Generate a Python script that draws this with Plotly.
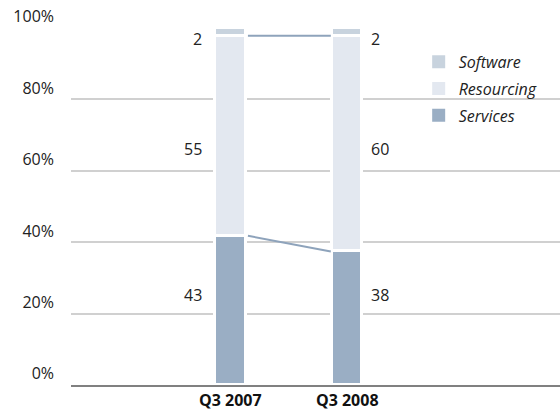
import plotly.graph_objects as go

periods = ["Q3 2007", "Q3 2008"]
series_names = ["Services", "Resourcing", "Software"]
services = [41.8, 37.4]
resourcing = [56.0, 60.4]
software = [2.2, 2.2]
label_services = ["43", "38"]
label_resourcing = ["55", "60"]
label_software = ["2", "2"]
y_ticks = [0, 20, 40, 60, 80, 100]
y_ticktext = ["0%", "20%", "40%", "60%", "80%", "100%"]

colors = {"Services": "#9aaec4", "Resourcing": "#e3e8f0", "Software": "#c8d3de"}
values = {"Services": services, "Resourcing": resourcing, "Software": software}
labels = {"Services": label_services, "Resourcing": label_resourcing, "Software": label_software}
label_shift = {"Services": 19, "Resourcing": -9, "Software": -7}
legend_rank = {"Software": 1, "Resourcing": 2, "Services": 3}

xpos = list(range(len(periods)))
bw = 0.261
FONT = "Open Sans"

fig = go.Figure()
for name in series_names:
    fig.add_trace(go.Bar(
        x=xpos, y=values[name], name=name, width=bw,
        marker=dict(color=colors[name], line=dict(color="white", width=3)),
        showlegend=False,
    ))

# legend entries (plain squares)
for name in series_names:
    fig.add_trace(go.Scatter(
        x=[None], y=[None], mode="markers", name=name,
        marker=dict(symbol="square", size=13, color=colors[name]),
        legendgroup=name, legendrank=legend_rank[name], hoverinfo="skip",
    ))

# connector lines between bars
base = [0.0 for _ in periods]
for name in ["Services", "Resourcing"]:
    tops = [b + v for b, v in zip(base, values[name])]
    fig.add_trace(go.Scatter(
        x=[xpos[0] + bw / 2 + 0.02, xpos[1] - bw / 2 - 0.01], y=tops,
        mode="lines", line=dict(color="#8ea3bb", width=2),
        showlegend=False, hoverinfo="skip",
    ))
    base = tops

# data labels
base = [0.0 for _ in periods]
annotations = []
for name in series_names:
    segs = values[name]
    mids = [b + v / 2 for b, v in zip(base, segs)]
    ylab = sum(mids) / len(mids)
    for i, x in enumerate(xpos):
        left = (i == 0)
        annotations.append(dict(
            x=x - bw / 2 if left else x + bw / 2, y=ylab, xref="x", yref="y",
            text=labels[name][i], showarrow=False,
            xanchor="right" if left else "left", yanchor="middle",
            xshift=-11 if left else 7, yshift=label_shift[name],
            font=dict(family=FONT, size=16, color="#222222"),
        ))
    base = [b + v for b, v in zip(base, segs)]

fig.update_layout(
    width=560, height=410,
    margin=dict(l=71, r=0, t=28, b=25),
    paper_bgcolor="white", plot_bgcolor="white",
    barmode="stack", bargap=0,
    font=dict(family=FONT, size=16, color="#222222"),
    showlegend=True,
    legend=dict(
        x=0.711, y=0.953, xanchor="left", yanchor="top",
        traceorder="grouped", tracegroupgap=3,
        bgcolor="rgba(0,0,0,0)",
        font=dict(family=FONT, size=16, color="#222222", style="italic"),
    ),
    annotations=annotations,
)
fig.update_xaxes(
    range=[-1.363, 2.820], tickvals=xpos, ticktext=periods,
    showgrid=False, zeroline=False, showline=True,
    linecolor="#808080", linewidth=2, ticks="", ticklen=0,
    automargin=False,
    tickfont=dict(family=FONT, size=16, weight="bold", color="#111111"),
)
fig.update_yaxes(
    range=[0, 100], tickvals=y_ticks, ticktext=y_ticktext,
    showgrid=True, gridcolor="#d0d0d0", gridwidth=1.5,
    zeroline=False, showline=False, ticks="", ticklen=0,
    automargin=False,
    ticklabelposition="outside top", ticklabelstandoff=16,
    tickfont=dict(family=FONT, size=16, color="#222222"),
)

fig.write_html(
    "out.html",
    config={"displayModeBar": False},
    post_script="document.body.style.margin='0';document.body.style.padding='0';",
)
